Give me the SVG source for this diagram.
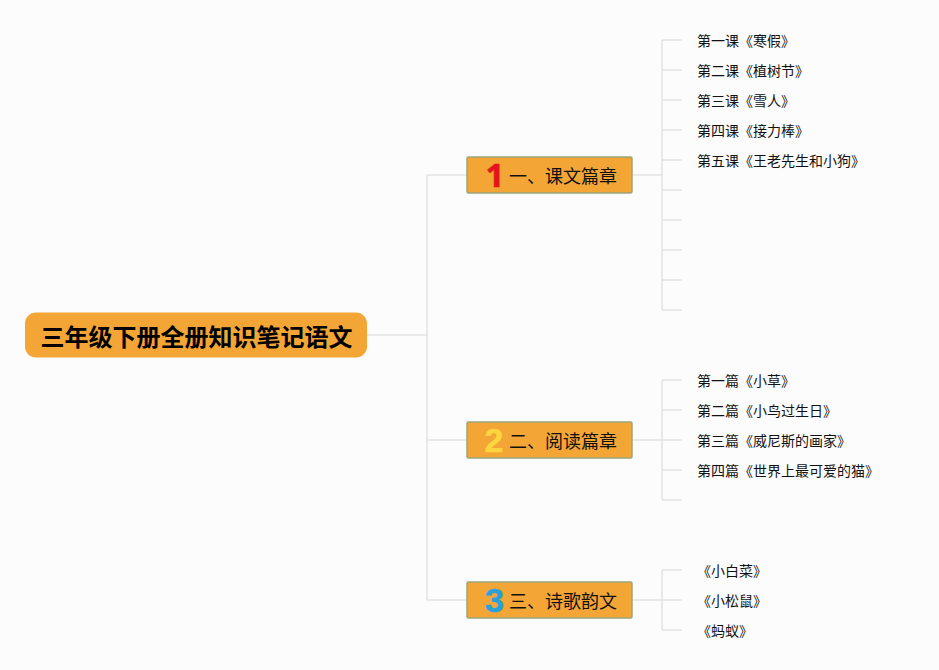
<svg xmlns="http://www.w3.org/2000/svg" width="939" height="670" viewBox="0 0 939 670">
<style>
.c{fill:none;stroke:#e2e2e2;stroke-width:1.5}
.t{font-family:"Liberation Sans","Noto Sans CJK SC",sans-serif;fill:#111}
.leaf{font-size:14px}
.br{font-size:18px}
.b{fill:#f3a536;stroke:#9aa57a;stroke-width:1.5}
.n{font-family:"Liberation Sans",sans-serif;font-weight:700;font-size:34px;text-anchor:middle;stroke-width:.6;stroke-linejoin:round}
.n1{font-family:"Open Sans","Liberation Sans",sans-serif;font-size:33px}
</style>
<rect width="939" height="670" fill="#fcfcfc"/>
<g id="connectors">
<path class="c" d="M367 335H427M427 175V600M427 175H467M427 440H467M427 600H467"/>
<path class="c" d="M632 175H662M662 40V310M662 40H682M662 70H682M662 100H682M662 130H682M662 160H682M662 190H682M662 220H682M662 250H682M662 280H682M662 310H682"/>
<path class="c" d="M632 440H662M662 380V500M662 380H682M662 410H682M662 440H682M662 470H682M662 500H682"/>
<path class="c" d="M632 600H662M662 570V630M662 570H682M662 600H682M662 630H682"/>
</g>
<g id="root"><rect x="25" y="312.500" width="342" height="45" rx="11" fill="#f3a536"/><text class="t" x="40.500" y="346" font-size="24" font-weight="700" style="fill:#000">三年级下册全册知识笔记语文</text></g>
<g id="b1"><rect class="b" x="467" y="157" width="165" height="36" rx="1.500"/><text class="n n1" x="495" y="187" fill="#e3141c" stroke="#e3141c">1</text><text class="t br" x="509" y="183">一、课文篇章</text></g>
<g id="b2"><rect class="b" x="467" y="422" width="165" height="36" rx="1.500"/><text class="n" x="494" y="452" fill="#fcd53f" stroke="#fcd53f">2</text><text class="t br" x="509" y="448">二、阅读篇章</text></g>
<g id="b3"><rect class="b" x="467" y="582" width="165" height="36" rx="1.500"/><text class="n" x="494.500" y="612" fill="#2b9fd8" stroke="#2b9fd8">3</text><text class="t br" x="509" y="608">三、诗歌韵文</text></g>
<g id="l1"><text class="t leaf" x="697" y="46">第一课《寒假》</text></g>
<g id="l2"><text class="t leaf" x="697" y="76">第二课《植树节》</text></g>
<g id="l3"><text class="t leaf" x="697" y="106">第三课《雪人》</text></g>
<g id="l4"><text class="t leaf" x="697" y="136">第四课《接力棒》</text></g>
<g id="l5"><text class="t leaf" x="697" y="166">第五课《王老先生和小狗》</text></g>
<g id="l6"><text class="t leaf" x="697" y="386">第一篇《小草》</text></g>
<g id="l7"><text class="t leaf" x="697" y="416">第二篇《小鸟过生日》</text></g>
<g id="l8"><text class="t leaf" x="697" y="446">第三篇《威尼斯的画家》</text></g>
<g id="l9"><text class="t leaf" x="697" y="476">第四篇《世界上最可爱的猫》</text></g>
<g id="l10"><text class="t leaf" x="697" y="576">《小白菜》</text></g>
<g id="l11"><text class="t leaf" x="697" y="606">《小松鼠》</text></g>
<g id="l12"><text class="t leaf" x="697" y="636">《蚂蚁》</text></g>
</svg>
